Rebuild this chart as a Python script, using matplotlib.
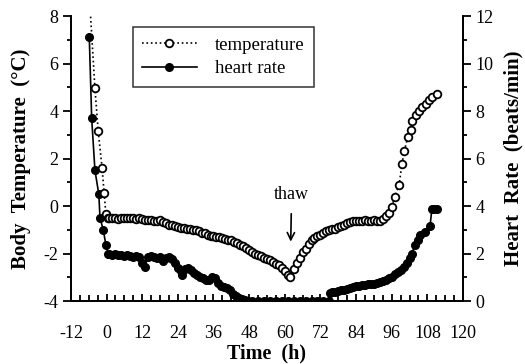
import matplotlib.pyplot as plt
from matplotlib.ticker import MultipleLocator

plt.rcParams['font.family'] = ['Liberation Serif', 'DejaVu Serif']
plt.rcParams['axes.unicode_minus'] = False

# body temperature (deg C) vs time (h)
temp_t = [-6.0, -3.9, -2.8, -1.5, -0.8, -0.2, 0.6,
          1, 2, 3, 4, 5, 6, 7, 8, 9, 10, 11, 12, 13, 14, 15, 16, 17, 18, 19, 20,
          21, 22, 23, 24, 25, 26, 27, 28, 29, 30, 31, 32, 33, 34, 35, 36, 37, 38,
          39, 40, 41, 42, 43, 44, 45, 46, 47, 48, 49, 50, 51, 52, 53, 54, 55, 56,
          57, 58, 59, 60, 61, 61.7, 63.1, 64, 65, 66, 67, 68, 69, 70, 71, 72, 73,
          74, 75, 76, 77, 78, 79, 80, 81, 82, 83, 84, 85, 86, 87, 88, 89, 90, 91,
          92, 93, 94, 95, 96, 97, 98.5, 99.4, 100.2, 101.4, 102.5, 102.9, 104.1,
          105.2, 106.3, 107.4, 108.5, 109.7, 111.1]
temp_v = [9.3, 4.95, 3.15, 1.6, 0.55, -0.35, -0.5,
          -0.52, -0.5, -0.52, -0.53, -0.5, -0.52, -0.52, -0.5, -0.52, -0.53, -0.52,
          -0.55, -0.58, -0.6, -0.58, -0.62, -0.65, -0.6, -0.68, -0.72,
          -0.78, -0.82, -0.85, -0.9, -0.92, -0.92, -0.95, -0.98, -1.0, -1.0, -1.05,
          -1.12, -1.15, -1.2, -1.25, -1.28, -1.3, -1.3,
          -1.35, -1.4, -1.42, -1.45, -1.5, -1.55, -1.62, -1.7, -1.78, -1.85, -1.92,
          -2.0, -2.05, -2.12, -2.18, -2.22, -2.28, -2.35,
          -2.42, -2.5, -2.6, -2.75, -2.9, -2.98, -2.65, -2.4, -2.2, -1.95, -1.8,
          -1.6, -1.45, -1.35, -1.25, -1.2, -1.12,
          -1.05, -1.0, -0.98, -0.95, -0.9, -0.85, -0.78, -0.72, -0.68, -0.65,
          -0.62, -0.62, -0.62, -0.6, -0.62, -0.62, -0.6, -0.62,
          -0.62, -0.55, -0.42, -0.28, -0.05, 0.4, 0.9, 1.75, 2.3, 2.9, 3.2, 3.6,
          3.85, 4.0, 4.15, 4.3, 4.45, 4.58, 4.7]

# heart rate (beats/min) vs time (h)
hr_t = [-5.8, -5.0, -3.9, -2.6, -2.2, -1.1, -0.2, 0.6,
        1, 2, 3, 4, 5, 6, 7, 8, 9, 10, 11, 12, 12.9, 14, 15, 16, 17, 18, 19, 20,
        21, 22, 23, 24, 25, 25.5, 26.5, 27.5, 28.5, 29.5, 30.5, 31.5, 32.5, 33.5,
        34.5, 35.5, 36.5, 37.5, 38.5, 39.5, 40.5, 41.5, 42.5, 43.5, 44.5, 45.5,
        46.5, 47.5, 49, 51, 53, 55, 57, 59, 61, 63, 65, 67, 69, 71, 73, 74.8,
        75.2, 76, 77, 78, 79, 80, 81, 82, 83, 84, 85, 86, 87, 88, 89, 90, 91, 92,
        93, 94, 95, 96, 97, 98, 99, 100, 101, 102, 102.7, 103.8, 105, 105.5,
        107.2, 108.9, 109.5, 110.3, 111.1]
hr_v = [11.1, 7.7, 5.5, 4.5, 3.5, 3.0, 2.35, 2.0,
        1.98, 1.95, 2.0, 1.92, 1.95, 1.9, 1.95, 1.9, 1.85, 1.9, 1.85, 1.6, 1.45,
        1.85, 1.9, 1.85, 1.8, 1.85, 1.7, 1.8,
        1.85, 1.75, 1.6, 1.4, 1.25, 1.1, 1.35, 1.38, 1.3, 1.2, 1.1, 1.0, 0.95,
        0.88, 0.9, 1.0, 0.95, 0.75, 0.62, 0.6, 0.55, 0.45, 0.3, 0.2, 0.12, 0.1,
        0.05, 0.02, 0.0, 0.0, 0.0, 0.0, 0.0, 0.0, 0.0, 0.0, 0.0, 0.0, 0.0, 0.0,
        0.0, 0.0,
        0.35, 0.38, 0.4, 0.42, 0.45, 0.48, 0.5, 0.53, 0.58, 0.62, 0.65, 0.67,
        0.68, 0.7, 0.72, 0.72, 0.75, 0.8,
        0.85, 0.9, 0.95, 1.03, 1.12, 1.22, 1.31, 1.45, 1.59, 1.8, 1.98, 2.36,
        2.57, 2.78, 2.92, 3.16, 3.87, 3.87, 3.87]

fig = plt.figure(figsize=(5.25, 3.64), dpi=100)
ax = fig.add_axes([0.135, 0.173, 0.747, 0.783])
ax2 = ax.twinx()

ax.plot([], [], ':', color='black', lw=1.2, marker='o', ms=5.5, mfc='white',
        mec='black', mew=1.3, label='temperature')
ax.plot([], [], '-', color='black', lw=1.2, marker='o', ms=5.5, mfc='black',
        mec='black', label='heart rate')

ax2.plot(hr_t, hr_v, '-', color='black', lw=1.2, marker='o', ms=5.5,
         mfc='black', mec='black', zorder=2)
ax2.plot(temp_t, [v + 4 for v in temp_v], ':', color='black',
         lw=1.2, marker='o', ms=5.5, mfc='white', mec='black', mew=1.3, zorder=3)

ax.set_xlim(-12, 120)
ax.set_ylim(-4, 8)
ax2.set_ylim(0, 12)

ax.xaxis.set_major_locator(MultipleLocator(12))
ax.xaxis.set_minor_locator(MultipleLocator(3))
ax.yaxis.set_major_locator(MultipleLocator(2))
ax.yaxis.set_minor_locator(MultipleLocator(1))
ax2.yaxis.set_major_locator(MultipleLocator(2))
ax2.yaxis.set_minor_locator(MultipleLocator(1))

for a in (ax, ax2):
    a.spines['top'].set_visible(False)
    for s in a.spines.values():
        s.set_linewidth(1.3)
ax.tick_params(axis='x', which='major', direction='in', length=5, width=1.3,
               labelsize=13, pad=17)
ax.tick_params(axis='x', which='minor', direction='in', length=4, width=1.3)
ax.tick_params(axis='y', which='major', direction='out', length=6, width=1.3,
               labelsize=13, pad=3)
ax.tick_params(axis='y', which='minor', direction='out', length=3, width=1.3)
ax2.tick_params(axis='y', which='major', direction='out', length=6, width=1.3,
                labelsize=13, pad=3)
ax2.tick_params(axis='y', which='minor', direction='out', length=3, width=1.3)

ax.set_xlabel('Time  (h)', fontsize=14.5, fontweight='bold', labelpad=1)
ax.set_ylabel('Body  Temperature  (\u00b0C)', fontsize=15, fontweight='bold',
              labelpad=9)
ax2.set_ylabel('Heart  Rate  (beats/min)', fontsize=15, fontweight='bold',
               labelpad=7)

ax.annotate('thaw', xy=(62, -1.5), xytext=(62.3, 0.5), ha='center',
            va='center', fontsize=13,
            arrowprops=dict(arrowstyle='->', color='black', lw=1.2,
                            shrinkA=6, shrinkB=0))

leg = ax.legend(loc='upper left', bbox_to_anchor=(0.158, 0.961),
                fontsize=13.5, frameon=True, fancybox=False, borderpad=0.5,
                handlelength=2.9, handletextpad=1.0, labelspacing=0.35,
                borderaxespad=0)
leg.get_frame().set_edgecolor('black')
leg.get_frame().set_linewidth(1.1)

fig.savefig('out.png', dpi=100)
